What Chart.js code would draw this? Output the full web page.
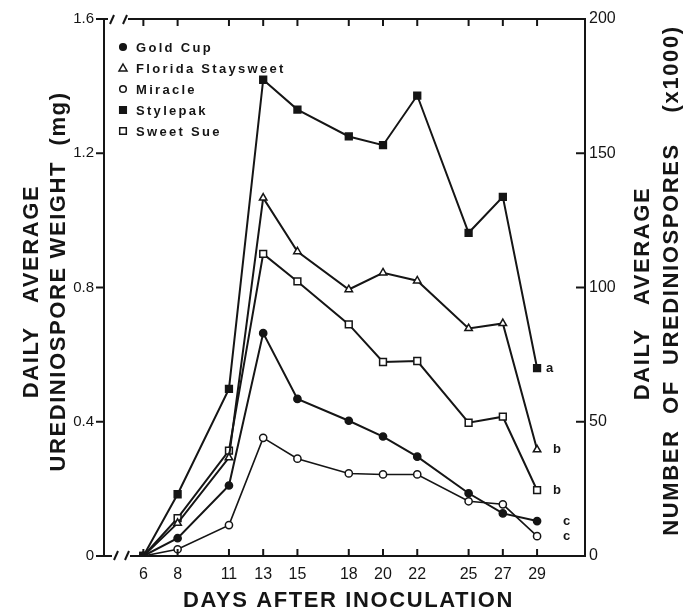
<!DOCTYPE html>
<html><head><meta charset="utf-8">
<script src="https://cdn.jsdelivr.net/npm/chart.js@4.4.1/dist/chart.umd.min.js"></script>
<style>html,body{margin:0;padding:0;background:#fff}#wrap{width:698px;height:614px}</style>
</head><body><div id="wrap"><canvas id="c" width="698" height="614"></canvas></div>
<script>
// ---- data ----
const days = [6, 8, 11, 13, 15, 18, 20, 22, 25, 27, 29];
const seriesNames = ['Gold Cup', 'Florida Staysweet', 'Miracle', 'Stylepak', 'Sweet Sue'];
const goldCup          = [0, 0.053, 0.210, 0.664, 0.468, 0.403, 0.356, 0.296, 0.187, 0.127, 0.104];
const floridaStaysweet = [0, 0.098, 0.293, 1.067, 0.907, 0.794, 0.844, 0.820, 0.678, 0.693, 0.317];
const miracle          = [0, 0.020, 0.092, 0.352, 0.290, 0.246, 0.243, 0.243, 0.163, 0.154, 0.059];
const stylepak         = [0, 0.184, 0.498, 1.419, 1.330, 1.250, 1.224, 1.372, 0.963, 1.070, 0.560];
const sweetSue         = [0, 0.113, 0.314, 0.900, 0.818, 0.690, 0.578, 0.581, 0.397, 0.415, 0.196];
const sigLetters = ['c', 'b', 'c', 'a', 'b'];
const leftTicks = [0, 0.4, 0.8, 1.2, 1.6];
const rightTicks = [0, 50, 100, 150, 200];
const xTitle = 'DAYS AFTER INOCULATION';
const leftTitle = ['DAILY   AVERAGE', 'UREDINIOSPORE WEIGHT  (mg)'];
const rightTitle = ['DAILY   AVERAGE', 'NUMBER  OF  UREDINIOSPORES    (x1000)'];

// ---- styles ----
const INK = '#151515';
const seriesValues = [goldCup, floridaStaysweet, miracle, stylepak, sweetSue];
const styles = [
  {ps: 'circle', r: 3.6, fill: INK, lw: 2},
  {ps: 'triangle', r: 4.3, fill: '#fff', lw: 2},
  {ps: 'circle', r: 3.6, fill: '#fff', lw: 1.6},
  {ps: 'rect', r: 4.8, fill: INK, lw: 2},
  {ps: 'rect', r: 4.8, fill: '#fff', lw: 2}
];
const letterOffset = {a: 9, b: 16, c: 26};

const datasets = seriesNames.map((name, i) => ({
  label: name,
  data: days.map((d, j) => ({x: d, y: seriesValues[i][j]})),
  borderColor: INK,
  borderWidth: styles[i].lw,
  pointStyle: styles[i].ps,
  pointRadius: styles[i].r,
  pointBackgroundColor: styles[i].fill,
  pointBorderColor: INK,
  pointBorderWidth: 1.5,
  fill: false,
  tension: 0,
  yAxisID: 'y'
}));

function line(ctx, x1, y1, x2, y2) { ctx.beginPath(); ctx.moveTo(x1, y1); ctx.lineTo(x2, y2); ctx.stroke(); }

const framePlugin = {
  id: 'frame',
  afterDraw(chart) {
    const {ctx, chartArea: a, scales} = chart;
    ctx.save();
    ctx.strokeStyle = INK; ctx.lineWidth = 2; ctx.lineCap = 'square';
    // left & right axis
    line(ctx, a.left, a.top, a.left, a.bottom);
    line(ctx, a.right, a.top, a.right, a.bottom);
    // bottom axis with break
    line(ctx, a.left, a.bottom, a.left + 7, a.bottom);
    line(ctx, a.left + 27, a.bottom, a.right, a.bottom);
    ctx.lineCap = 'butt';
    line(ctx, a.left + 10, a.bottom + 4, a.left + 14, a.bottom - 5);
    line(ctx, a.left + 21, a.bottom + 4, a.left + 25, a.bottom - 5);
    // top axis with break
    ctx.lineCap = 'square';
    line(ctx, a.left, a.top, a.left + 3, a.top);
    line(ctx, a.left + 25, a.top, a.right, a.top);
    ctx.lineCap = 'butt';
    line(ctx, a.left + 6, a.top + 5, a.left + 10, a.top - 4);
    line(ctx, a.left + 19, a.top + 5, a.left + 23, a.top - 4);
    // ticks
    scales.x.ticks.forEach(t => {
      const px = scales.x.getPixelForValue(t.value);
      line(ctx, px, a.bottom, px, a.bottom - 7);
      line(ctx, px, a.top, px, a.top + 7);
    });
    scales.y.ticks.forEach(t => {
      const py = scales.y.getPixelForValue(t.value);
      line(ctx, a.left - 8, py, a.left, py);
    });
    scales.y1.ticks.forEach(t => {
      const py = scales.y1.getPixelForValue(t.value);
      line(ctx, a.right - 9, py, a.right, py);
    });
    // significance letters
    ctx.fillStyle = INK; ctx.font = 'bold 13px "Liberation Sans", Arial, sans-serif';
    ctx.textAlign = 'left'; ctx.textBaseline = 'middle';
    chart.data.datasets.forEach((ds, i) => {
      const last = ds.data[ds.data.length - 1];
      const px = scales.x.getPixelForValue(last.x), py = scales.y.getPixelForValue(last.y);
      ctx.fillText(sigLetters[i], px + letterOffset[sigLetters[i]], py);
    });
    // legend
    ctx.font = 'bold 13px "Liberation Sans", Arial, sans-serif';
    ctx.letterSpacing = '2.3px';
    seriesNames.forEach((name, i) => {
      const mx = a.left + 19, my = a.top + 28 + i * 21;
      const s = styles[i];
      ctx.fillStyle = s.fill; ctx.strokeStyle = INK; ctx.lineWidth = 1.5;
      ctx.beginPath();
      if (s.ps === 'circle') { ctx.arc(mx, my, 3.3, 0, Math.PI * 2); }
      else if (s.ps === 'rect') { ctx.rect(mx - 3.3, my - 3.3, 6.6, 6.6); }
      else { ctx.moveTo(mx, my - 4); ctx.lineTo(mx + 4, my + 3); ctx.lineTo(mx - 4, my + 3); ctx.closePath(); }
      ctx.fill(); ctx.stroke();
      ctx.fillStyle = INK;
      ctx.fillText(name, a.left + 32, my + 1);
    });
    // axis titles
    ctx.font = 'bold 22px "Liberation Sans", Arial, sans-serif';
    ctx.letterSpacing = '1.6px';
    ctx.textAlign = 'center'; ctx.textBaseline = 'middle';
    ctx.fillText(xTitle, (a.left + a.right) / 2 + 4, 601);
    const cy = (a.top + a.bottom) / 2;
    [[leftTitle, [32, 59], [4, -6]], [rightTitle, [643, 672], [6, -7]]].forEach(([lines, xs, dys]) => {
      lines.forEach((txt, k) => {
        ctx.save();
        ctx.translate(xs[k], cy + dys[k]);
        ctx.rotate(-Math.PI / 2);
        ctx.fillText(txt, 0, 0);
        ctx.restore();
      });
    });
    ctx.restore();
  }
};

const tickFont = {family: '"Liberation Sans", Arial, sans-serif', size: 15};
new Chart(document.getElementById('c'), {
  type: 'line',
  data: {datasets},
  options: {
    responsive: false, animation: false, devicePixelRatio: 1,
    layout: {padding: {top: 16, left: 0, right: 0, bottom: 0}},
    plugins: {legend: {display: false}, tooltip: {enabled: false}},
    scales: {
      x: {
        type: 'linear', min: 3.7, max: 31.8,
        afterBuildTicks: s => { s.ticks = days.map(v => ({value: v})); },
        afterFit: s => { s.height = 58; },
        grid: {display: false, drawTicks: false}, border: {display: false},
        ticks: {color: INK, font: {family: tickFont.family, size: 16}, padding: 9, maxRotation: 0, autoSkip: false, callback: v => String(v)}
      },
      y: {
        position: 'left', min: 0, max: 1.6,
        afterBuildTicks: s => { s.ticks = leftTicks.map(v => ({value: v})); },
        afterFit: s => { s.width = 104; },
        grid: {display: false, drawTicks: false}, border: {display: false},
        ticks: {color: INK, font: {family: tickFont.family, size: 15}, padding: 10, callback: v => v === 0 ? '0' : v.toFixed(1)}
      },
      y1: {
        position: 'right', min: 0, max: 200,
        afterBuildTicks: s => { s.ticks = rightTicks.map(v => ({value: v})); },
        afterFit: s => { s.width = 113; },
        grid: {display: false, drawTicks: false}, border: {display: false},
        ticks: {color: INK, font: {family: tickFont.family, size: 16}, padding: 4, callback: v => String(v)}
      }
    }
  },
  plugins: [framePlugin]
});
</script></body></html>
